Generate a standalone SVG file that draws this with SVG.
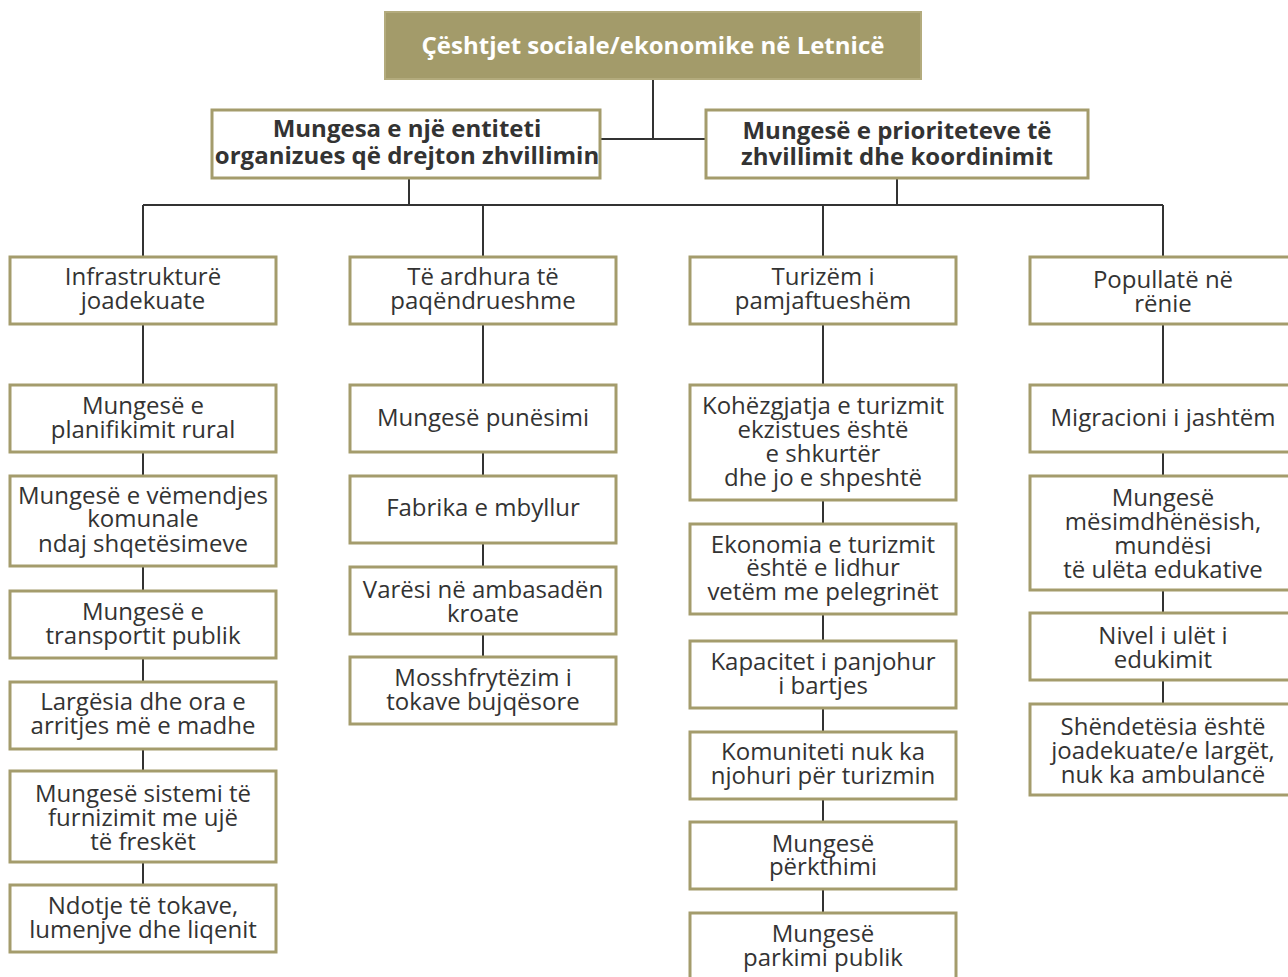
<svg xmlns="http://www.w3.org/2000/svg" width="1288" height="977" viewBox="0 0 1288 977">
<style>
.b{fill:#fff;stroke:#a49c6c;stroke-width:3}
.t{font-family:"Open Sans","Liberation Sans",sans-serif;font-size:24px;fill:#333;text-anchor:middle}
.h{font-family:"Open Sans","Liberation Sans",sans-serif;font-size:24px;font-weight:bold;fill:#333;text-anchor:middle}
.c{fill:none;stroke:#333;stroke-width:2}
</style>
<rect width="1288" height="977" fill="#fff"/>
<g id="connectors">
<path class="c" d="M653 79V139M600 139H706M409 178V205M897 178V205M143 205H1163M143 205V257M483 205V257M823 205V257M1163 205V257"/>
<path class="c" d="M143 324V385M143 452V476M143 566V591M143 658V682M143 749V771M143 862V885"/>
<path class="c" d="M483 324V385M483 452V476M483 543V567M483 634V657"/>
<path class="c" d="M823 324V385M823 500V524M823 614V641M823 708V732M823 799V822M823 889V913"/>
<path class="c" d="M1163 324V385M1163 452V476M1163 590V613M1163 680V704"/>
</g>
<g id="root"><rect x="385" y="12" width="536" height="67" fill="#a39b6a" stroke="#b3ab7d" stroke-width="2"/><text class="h" x="653" y="54" style="fill:#fff">Çështjet sociale/ekonomike në Letnicë</text></g>
<g id="n-entitet"><rect class="b" x="212" y="110" width="388" height="68"/><text class="h"><tspan x="407" y="137">Mungesa e një entiteti</tspan><tspan x="407" y="164">organizues që drejton zhvillimin</tspan></text></g>
<g id="n-prioritet"><rect class="b" x="706" y="110" width="382" height="68"/><text class="h"><tspan x="897" y="139">Mungesë e prioriteteve të</tspan><tspan x="897" y="165">zhvillimit dhe koordinimit</tspan></text></g>

<g id="c1"><rect class="b" x="10" y="257" width="266" height="67"/><text class="t"><tspan x="143" y="285">Infrastrukturë</tspan><tspan x="143" y="309">joadekuate</tspan></text></g>
<g id="c2"><rect class="b" x="350" y="257" width="266" height="67"/><text class="t"><tspan x="483" y="285">Të ardhura të</tspan><tspan x="483" y="309">paqëndrueshme</tspan></text></g>
<g id="c3"><rect class="b" x="690" y="257" width="266" height="67"/><text class="t"><tspan x="823" y="285">Turizëm i</tspan><tspan x="823" y="309">pamjaftueshëm</tspan></text></g>
<g id="c4"><rect class="b" x="1030" y="257" width="266" height="67"/><text class="t"><tspan x="1163" y="288">Popullatë në</tspan><tspan x="1163" y="312">rënie</tspan></text></g>

<g id="c1-1"><rect class="b" x="10" y="385" width="266" height="67"/><text class="t"><tspan x="143" y="414">Mungesë e</tspan><tspan x="143" y="438">planifikimit rural</tspan></text></g>
<g id="c1-2"><rect class="b" x="10" y="476" width="266" height="90"/><text class="t"><tspan x="143" y="504">Mungesë e vëmendjes</tspan><tspan x="143" y="527">komunale</tspan><tspan x="143" y="552">ndaj shqetësimeve</tspan></text></g>
<g id="c1-3"><rect class="b" x="10" y="591" width="266" height="67"/><text class="t"><tspan x="143" y="620">Mungesë e</tspan><tspan x="143" y="644">transportit publik</tspan></text></g>
<g id="c1-4"><rect class="b" x="10" y="682" width="266" height="67"/><text class="t"><tspan x="143" y="710">Largësia dhe ora e</tspan><tspan x="143" y="734">arritjes më e madhe</tspan></text></g>
<g id="c1-5"><rect class="b" x="10" y="771" width="266" height="91"/><text class="t"><tspan x="143" y="802">Mungesë sistemi të</tspan><tspan x="143" y="826">furnizimit me ujë</tspan><tspan x="143" y="850">të freskët</tspan></text></g>
<g id="c1-6"><rect class="b" x="10" y="885" width="266" height="67"/><text class="t"><tspan x="143" y="914">Ndotje të tokave,</tspan><tspan x="143" y="938">lumenjve dhe liqenit</tspan></text></g>

<g id="c2-1"><rect class="b" x="350" y="385" width="266" height="67"/><text class="t" x="483" y="426">Mungesë punësimi</text></g>
<g id="c2-2"><rect class="b" x="350" y="476" width="266" height="67"/><text class="t" x="483" y="516">Fabrika e mbyllur</text></g>
<g id="c2-3"><rect class="b" x="350" y="567" width="266" height="67"/><text class="t"><tspan x="483" y="598">Varësi në ambasadën</tspan><tspan x="483" y="622">kroate</tspan></text></g>
<g id="c2-4"><rect class="b" x="350" y="657" width="266" height="67"/><text class="t"><tspan x="483" y="686">Mosshfrytëzim i</tspan><tspan x="483" y="710">tokave bujqësore</tspan></text></g>

<g id="c3-1"><rect class="b" x="690" y="385" width="266" height="115"/><text class="t"><tspan x="823" y="414">Kohëzgjatja e turizmit</tspan><tspan x="823" y="438">ekzistues është</tspan><tspan x="823" y="462">e shkurtër</tspan><tspan x="823" y="486">dhe jo e shpeshtë</tspan></text></g>
<g id="c3-2"><rect class="b" x="690" y="524" width="266" height="90"/><text class="t"><tspan x="823" y="553">Ekonomia e turizmit</tspan><tspan x="823" y="576">është e lidhur</tspan><tspan x="823" y="600">vetëm me pelegrinët</tspan></text></g>
<g id="c3-3"><rect class="b" x="690" y="641" width="266" height="67"/><text class="t"><tspan x="823" y="670">Kapacitet i panjohur</tspan><tspan x="823" y="694">i bartjes</tspan></text></g>
<g id="c3-4"><rect class="b" x="690" y="732" width="266" height="67"/><text class="t"><tspan x="823" y="760">Komuniteti nuk ka</tspan><tspan x="823" y="784">njohuri për turizmin</tspan></text></g>
<g id="c3-5"><rect class="b" x="690" y="822" width="266" height="67"/><text class="t"><tspan x="823" y="852">Mungesë</tspan><tspan x="823" y="875">përkthimi</tspan></text></g>
<g id="c3-6"><rect class="b" x="690" y="913" width="266" height="80"/><text class="t"><tspan x="823" y="942">Mungesë</tspan><tspan x="823" y="966">parkimi publik</tspan></text></g>

<g id="c4-1"><rect class="b" x="1030" y="385" width="266" height="67"/><text class="t" x="1163" y="426">Migracioni i jashtëm</text></g>
<g id="c4-2"><rect class="b" x="1030" y="476" width="266" height="114"/><text class="t"><tspan x="1163" y="506">Mungesë</tspan><tspan x="1163" y="530">mësimdhënësish,</tspan><tspan x="1163" y="554">mundësi</tspan><tspan x="1163" y="578">të ulëta edukative</tspan></text></g>
<g id="c4-3"><rect class="b" x="1030" y="613" width="266" height="67"/><text class="t"><tspan x="1163" y="644">Nivel i ulët i</tspan><tspan x="1163" y="668">edukimit</tspan></text></g>
<g id="c4-4"><rect class="b" x="1030" y="704" width="266" height="91"/><text class="t"><tspan x="1163" y="735">Shëndetësia është</tspan><tspan x="1163" y="759">joadekuate/e largët,</tspan><tspan x="1163" y="783">nuk ka ambulancë</tspan></text></g>
</svg>
